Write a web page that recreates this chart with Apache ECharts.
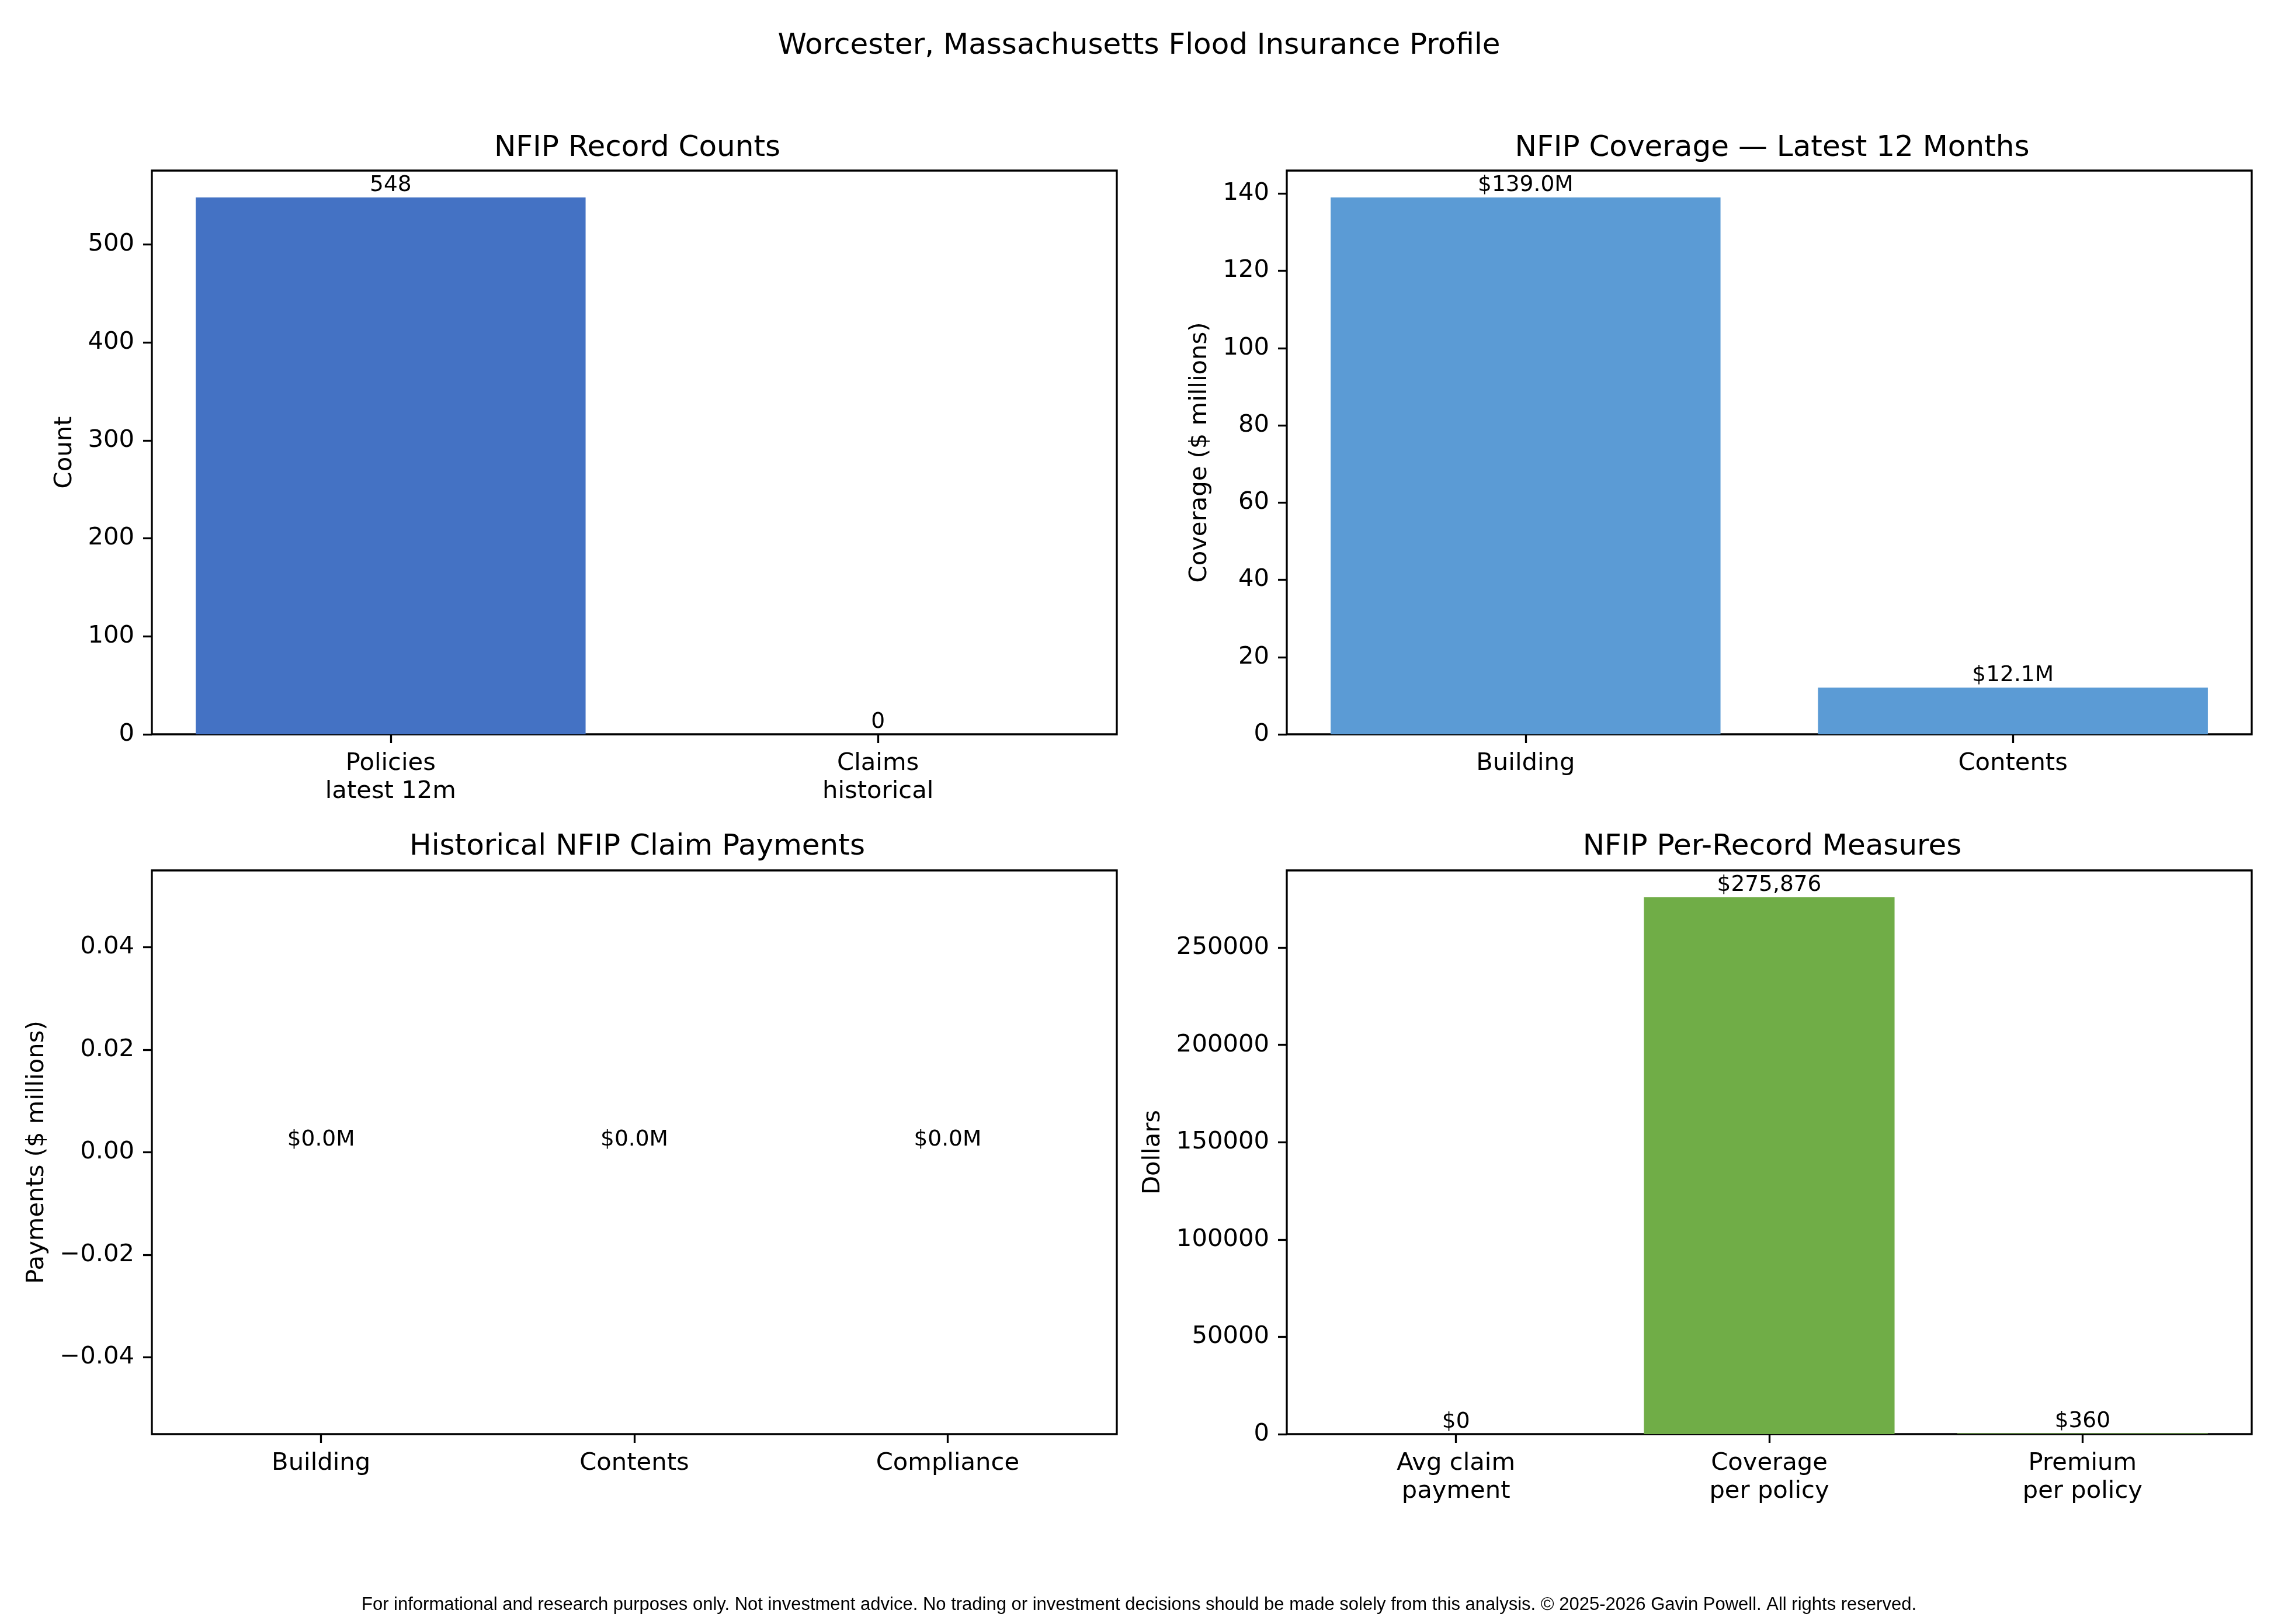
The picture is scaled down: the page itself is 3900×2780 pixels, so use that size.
<!DOCTYPE html>
<html>
<head>
<meta charset="utf-8">
<title>Worcester NFIP profile</title>
<script src="https://cdn.jsdelivr.net/npm/echarts@6/dist/echarts.min.js"></script>
<style>
  html, body { margin: 0; padding: 0; background: #fff; }
  #chart { width: 3900px; height: 2780px; }
</style>
</head>
<body>
<div id="chart"></div>
<script>
// record counts
const countCats = ['Policies\nlatest 12m', 'Claims\nhistorical'];
const countVals = [548, 0];
const countTicks = [0, 100, 200, 300, 400, 500];

// coverage, $ millions
const coverageCats = ['Building', 'Contents'];
const coverageVals = [139.0, 12.1];
const coverageTicks = [0, 20, 40, 60, 80, 100, 120, 140];

// historical claim payments, $ millions
const paymentCats = ['Building', 'Contents', 'Compliance'];
const paymentVals = [0, 0, 0];
const paymentTicks = [-0.04, -0.02, 0, 0.02, 0.04];

// per-record measures, dollars
const measureCats = ['Avg claim\npayment', 'Coverage\nper policy', 'Premium\nper policy'];
const measureVals = [0, 275876, 360];
const measureTicks = [0, 50000, 100000, 150000, 200000, 250000];

const FONT = "'DejaVu Sans', sans-serif";
const TICK_FS = 41.7;
const GRID_W = 1652;
const GRID_H = 965;

const chart = echarts.init(document.getElementById('chart'), null, { renderer: 'canvas' });

const money = v => '$' + Math.round(v).toLocaleString('en-US');
const minus = s => s.replace('-', '\u2212');

const panels = [
  {
    left: 260, top: 292, cats: countCats, vals: countVals, ticks: countTicks,
    color: '#4472C4', name: 'Count', nameGap: 128,
    yFmt: v => String(v), labelFmt: v => String(v),
  },
  {
    left: 2203, top: 292, cats: coverageCats, vals: coverageVals, ticks: coverageTicks,
    color: '#5B9BD5', name: 'Coverage ($ millions)', nameGap: 128,
    yFmt: v => String(v), labelFmt: v => '$' + v.toFixed(1) + 'M',
  },
  {
    left: 260, top: 1490, cats: paymentCats, vals: paymentVals, ticks: paymentTicks,
    color: '#ED7D31', name: 'Payments ($ millions)', nameGap: 176,
    yMin: -0.055, yMax: 0.055,
    yFmt: v => minus(v.toFixed(2)), labelFmt: v => '$' + v.toFixed(1) + 'M',
  },
  {
    left: 2203, top: 1490, cats: measureCats, vals: measureVals, ticks: measureTicks,
    color: '#70AD47', name: 'Dollars', nameGap: 208,
    yFmt: v => String(v), labelFmt: money,
  },
];

const grid = [], xAxis = [], yAxis = [], series = [];

panels.forEach((p, i) => {
  const n = p.cats.length;
  // matplotlib style: bars 0.8 wide, 5% margin each side
  const pad = 0.05 * (n - 1 + 0.8);
  const xMin = -0.4 - pad;
  const xMax = n - 1 + 0.4 + pad;
  const idx = p.cats.map((c, k) => k);
  const yMin = p.yMin !== undefined ? p.yMin : 0;
  const yMax = p.yMax !== undefined ? p.yMax : Math.max(...p.vals) * 1.05;

  grid.push({
    left: p.left, top: p.top, width: GRID_W, height: GRID_H,
    show: true, borderColor: '#000', borderWidth: 3.3, backgroundColor: 'transparent',
    containLabel: false,
  });

  xAxis.push({
    type: 'value', gridIndex: i, min: xMin, max: xMax, position: 'bottom',
    splitLine: { show: false },
    axisLine: { show: false, onZero: false },
    axisTick: { show: true, length: 15, customValues: idx, lineStyle: { color: '#000', width: 3.3 } },
    axisLabel: {
      customValues: idx,
      formatter: v => p.cats[Math.round(v)],
      fontFamily: FONT, fontSize: TICK_FS, lineHeight: 48, color: '#000', margin: 26,
    },
  });

  yAxis.push({
    type: 'value', gridIndex: i, min: yMin, max: yMax, position: 'left',
    splitLine: { show: false },
    axisLine: { show: false, onZero: false },
    axisTick: { show: true, length: 15, customValues: p.ticks, lineStyle: { color: '#000', width: 3.3 } },
    axisLabel: {
      customValues: p.ticks,
      formatter: p.yFmt,
      fontFamily: FONT, fontSize: TICK_FS, color: '#000', margin: 30,
    },
    name: p.name,
    nameLocation: 'middle',
    nameRotate: 90,
    nameGap: p.nameGap,
    nameTextStyle: { fontFamily: FONT, fontSize: TICK_FS, color: '#000' },
  });

  series.push({
    type: 'bar',
    xAxisIndex: i,
    yAxisIndex: i,
    barWidth: 0.8 * GRID_W / (xMax - xMin),
    data: p.vals.map((v, k) => [k, v]),
    itemStyle: { color: p.color },
    label: {
      show: true,
      position: 'top',
      distance: 2,
      formatter: d => p.labelFmt(d.value[1]),
      fontFamily: FONT, fontSize: 37.5, color: '#000',
    },
  });
});

const subTitle = (text, x, top) => ({
  text, left: x, top, textAlign: 'center',
  textStyle: { fontFamily: FONT, fontSize: 50, fontWeight: 'normal', color: '#000' },
});

chart.setOption({
  animation: false,
  backgroundColor: '#fff',
  title: [
    {
      text: 'Worcester, Massachusetts Flood Insurance Profile',
      left: 'center', top: 49,
      textStyle: { fontFamily: FONT, fontSize: 50, fontWeight: 'normal', color: '#000' },
    },
    subTitle('NFIP Record Counts', 1086, 224),
    subTitle('NFIP Coverage \u2014 Latest 12 Months', 3029, 224),
    subTitle('Historical NFIP Claim Payments', 1086, 1420),
    subTitle('NFIP Per-Record Measures', 3029, 1420),
    {
      text: 'For informational and research purposes only. Not investment advice. No trading or investment decisions should be made solely from this analysis. \u00a9 2025-2026 Gavin Powell. All rights reserved.',
      left: 'center', top: 2727,
      textStyle: { fontFamily: "'Liberation Sans', Arial, sans-serif", fontSize: 31, fontWeight: 'normal', color: '#000' },
    },
  ],
  grid,
  xAxis,
  yAxis,
  series,
});
</script>
</body>
</html>
